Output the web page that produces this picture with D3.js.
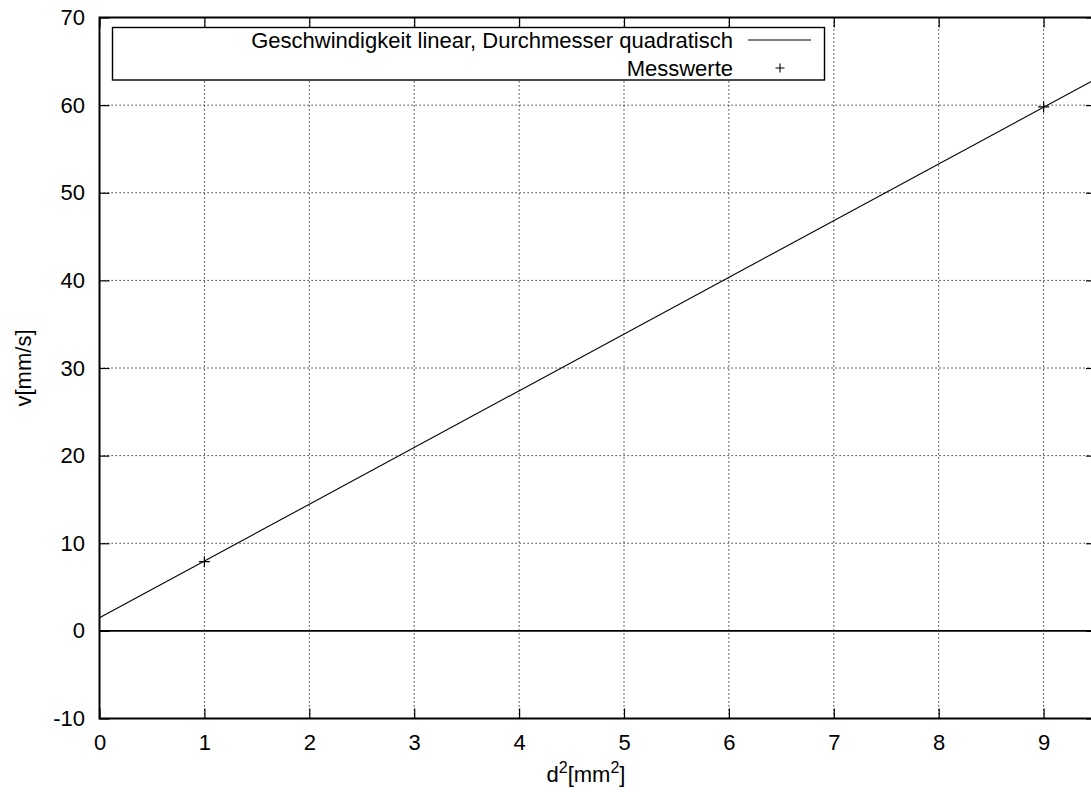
<!DOCTYPE html>
<html><head><meta charset="utf-8">
<script src="https://cdn.jsdelivr.net/npm/d3@7"></script>
<style>
html,body{margin:0;padding:0;background:#fff;}
svg{display:block;}
text{font-family:"Liberation Sans",Arial,Helvetica,sans-serif;fill:#000;}
</style></head>
<body>
<svg id="chart" width="1091" height="792"></svg>
<script>
// Data
const xTicks = [0,1,2,3,4,5,6,7,8,9];
const yTicks = [-10,0,10,20,30,40,50,60,70];
const fitD = [0, 9.5];          // fitted line, d^2 [mm^2]
const fitV = [1.5, 63.0];       // fitted line, v [mm/s]
const measD = [1, 9];           // measured d^2
const measV = [7.9, 59.8];      // measured v
const legendLabels = ["Geschwindigkeit linear, Durchmesser quadratisch", "Messwerte"];

const FS = 22;
const svg = d3.select("#chart");
const L = 99.5, T = 17.5, B = 718.5;
const x = d3.scaleLinear().domain([0, 9.5]).range([L, L + 9.5*104.9]);
const y = d3.scaleLinear().domain([-10, 70]).range([B, T]);
const R = x(9.5);

// grid
const grid = svg.append("g").attr("stroke","#000").attr("stroke-width",1).attr("stroke-dasharray","1.2,2.8");
xTicks.filter(d=>d>0).forEach(d=>{
  grid.append("line").attr("x1",x(d)).attr("x2",x(d)).attr("y1",B).attr("y2",T);
});
yTicks.filter(d=>d>-10 && d<70 && d!==0).forEach(d=>{
  grid.append("line").attr("x1",L).attr("x2",R).attr("y1",y(d)).attr("y2",y(d));
});

// zero axis
svg.append("line").attr("x1",L).attr("x2",R).attr("y1",y(0)).attr("y2",y(0))
  .attr("stroke","#000").attr("stroke-width",1.6);

// axes via d3
const fmt = d => String(d);
const xAxis = svg.append("g").attr("transform",`translate(0,${B})`)
  .call(d3.axisBottom(x).tickValues(xTicks).tickSize(-10).tickPadding(16).tickFormat(fmt));
const xAxisTop = svg.append("g").attr("transform",`translate(0,${T})`)
  .call(d3.axisTop(x).tickValues(xTicks).tickSize(-10).tickFormat(""));
const yAxis = svg.append("g").attr("transform",`translate(${L},0)`)
  .call(d3.axisLeft(y).tickValues(yTicks).tickSize(-10).tickPadding(14).tickFormat(fmt));
const yAxisR = svg.append("g").attr("transform",`translate(${R},0)`)
  .call(d3.axisRight(y).tickValues(yTicks).tickSize(-10).tickFormat(""));
[xAxis,xAxisTop,yAxis,yAxisR].forEach(g=>{
  g.select(".domain").remove();
  g.selectAll(".tick line").attr("stroke","#000").attr("stroke-width",1.2);
  g.selectAll("text").attr("font-size",FS).attr("fill","#000")
   .style("font-family",'"Liberation Sans",Arial,sans-serif');
});
yAxis.selectAll("text").attr("x",-14.5);

// border
svg.append("rect").attr("x",L).attr("y",T).attr("width",R-L).attr("height",B-T)
  .attr("fill","none").attr("stroke","#000").attr("stroke-width",2);

// fitted line
const line = d3.line().x((d,i)=>x(fitD[i])).y((d,i)=>y(fitV[i]));
svg.append("path").datum(fitD).attr("d",line).attr("fill","none").attr("stroke","#000").attr("stroke-width",1.1);

// measured points (+)
const ps = 5.5;
svg.append("g").selectAll("path").data(measD).join("path")
  .attr("d",(d,i)=>`M${x(d)-ps},${y(measV[i])}H${x(d)+ps}M${x(d)},${y(measV[i])-ps}V${y(measV[i])+ps}`)
  .attr("stroke","#000").attr("stroke-width",1.2).attr("fill","none");

// legend
const lg = svg.append("g");
lg.append("rect").attr("x",112.5).attr("y",27.5).attr("width",712).attr("height",52.5)
  .attr("fill","#fff").attr("stroke","#000").attr("stroke-width",1.4);
lg.append("text").attr("x",733).attr("y",48).attr("text-anchor","end").attr("font-size",FS).text(legendLabels[0]);
lg.append("line").attr("x1",748).attr("x2",811).attr("y1",40).attr("y2",40).attr("stroke","#000").attr("stroke-width",1.1);
lg.append("text").attr("x",733).attr("y",76).attr("text-anchor","end").attr("font-size",FS).text(legendLabels[1]);
lg.append("path").attr("d",`M${780-4.5},68H${780+4.5}M780,${68-4.5}V${68+4.5}`).attr("stroke","#000").attr("stroke-width",1.1);

// axis titles
svg.append("text").attr("transform",`translate(31,${(T+B)/2}) rotate(-90)`).attr("text-anchor","middle")
  .attr("font-size",FS).text("v[mm/s]");
const xt = svg.append("text").attr("x",586).attr("y",782).attr("text-anchor","middle").attr("font-size",FS);
xt.append("tspan").text("d");
xt.append("tspan").attr("dy",-9).attr("font-size",16).text("2");
xt.append("tspan").attr("dy",9).text("[mm");
xt.append("tspan").attr("dy",-9).attr("font-size",16).text("2");
xt.append("tspan").attr("dy",9).text("]");
</script>
</body></html>
